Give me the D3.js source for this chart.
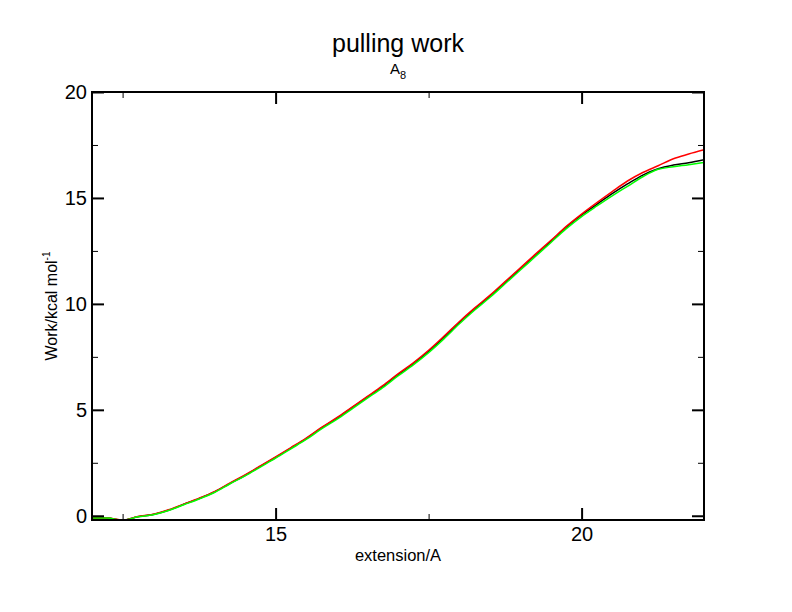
<!DOCTYPE html>
<html>
<head>
<meta charset="utf-8">
<script src="https://cdn.jsdelivr.net/npm/d3@7"></script>
<style>
  body { margin: 0; background: #fff; }
  svg { font-family: "Liberation Sans", Arial, sans-serif; }
</style>
</head>
<body>
<div id="chart"></div>
<script>
// extension (A) and pulling work for the three runs
const extension = [12.00, 12.25, 12.50, 12.75, 13.00, 13.25, 13.50, 13.75, 14.00, 14.25,
    14.50, 14.75, 15.00, 15.25, 15.50, 15.75, 16.00, 16.25, 16.50, 16.75,
    17.00, 17.25, 17.50, 17.75, 18.00, 18.25, 18.50, 18.75, 19.00, 19.25,
    19.50, 19.75, 20.00, 20.25, 20.50, 20.75, 21.00, 21.25, 21.50, 21.75, 22.00];

const workBlack = [-0.10, -0.11, -0.21, -0.05, 0.06, 0.26, 0.54, 0.81, 1.12, 1.52,
    1.90, 2.33, 2.75, 3.19, 3.64, 4.14, 4.60, 5.10, 5.60, 6.10,
    6.66, 7.18, 7.76, 8.42, 9.12, 9.76, 10.36, 11.00, 11.66, 12.32,
    12.96, 13.62, 14.20, 14.70, 15.20, 15.66, 16.08, 16.38, 16.55, 16.66, 16.80];

const workRed = [-0.10, -0.10, -0.20, -0.04, 0.07, 0.28, 0.55, 0.83, 1.14, 1.54,
    1.93, 2.35, 2.78, 3.22, 3.67, 4.17, 4.63, 5.13, 5.63, 6.14,
    6.70, 7.22, 7.81, 8.47, 9.16, 9.80, 10.40, 11.05, 11.70, 12.36,
    13.00, 13.66, 14.24, 14.78, 15.30, 15.80, 16.20, 16.52, 16.85, 17.07, 17.27];

const workGreen = [-0.10, -0.11, -0.21, -0.05, 0.05, 0.25, 0.52, 0.79, 1.10, 1.50,
    1.88, 2.30, 2.72, 3.16, 3.60, 4.10, 4.55, 5.05, 5.55, 6.05,
    6.60, 7.12, 7.70, 8.35, 9.05, 9.70, 10.30, 10.95, 11.60, 12.25,
    12.90, 13.55, 14.12, 14.62, 15.10, 15.55, 16.00, 16.35, 16.47, 16.57, 16.68];

const xMajor = [15, 20];
const xMinor = [12.5, 17.5];
const yMajor = [0, 5, 10, 15, 20];
const yMinor = [2.5, 7.5, 12.5, 17.5];

const width = 792;
const height = 612;
const pLeft = 92, pRight = 704, pTop = 92, pBottom = 520;

const svg = d3.select("#chart")
    .append("svg")
    .attr("width", width)
    .attr("height", height);

const x = d3.scaleLinear().domain([12, 22]).range([pLeft, pRight]);
const y = d3.scaleLinear().domain([-0.2, 20]).range([pBottom, pTop]);

// clip lines to the frame
svg.append("clipPath")
    .attr("id", "plot")
    .append("rect")
    .attr("x", pLeft)
    .attr("y", pTop)
    .attr("width", pRight - pLeft)
    .attr("height", pBottom - pTop);

const line = d3.line()
    .curve(d3.curveMonotoneX)
    .x(d => x(d[0]))
    .y(d => y(d[1]));

const series = [
    { values: workBlack, color: "#000000" },
    { values: workRed, color: "#ff0000" },
    { values: workGreen, color: "#00ff00" }
];

svg.append("g")
    .attr("clip-path", "url(#plot)")
    .selectAll("path")
    .data(series)
    .enter()
    .append("path")
    .attr("fill", "none")
    .attr("stroke", d => d.color)
    .attr("stroke-width", 1.5)
    .attr("d", d => line(extension.map((e, i) => [e, d.values[i]])));

// axes: ticks point inward on all four sides
function styleAxis(g, labels) {
    g.select(".domain").remove();
    g.selectAll("line").attr("stroke", "#000");
    g.selectAll("text")
        .attr("fill", "#000")
        .style("font-size", "20px")
        .style("display", labels ? null : "none");
}

svg.append("g")
    .attr("transform", `translate(0,${pBottom})`)
    .call(d3.axisBottom(x).tickValues(xMajor).tickSize(-12).tickPadding(7).tickFormat(d3.format("d")))
    .call(g => styleAxis(g, true))
    .selectAll("line").attr("stroke-width", 2);

svg.append("g")
    .attr("transform", `translate(0,${pBottom})`)
    .call(d3.axisBottom(x).tickValues(xMinor).tickSize(-6))
    .call(g => styleAxis(g, false));

svg.append("g")
    .attr("transform", `translate(0,${pTop})`)
    .call(d3.axisTop(x).tickValues(xMajor).tickSize(-12))
    .call(g => styleAxis(g, false))
    .selectAll("line").attr("stroke-width", 2);

svg.append("g")
    .attr("transform", `translate(0,${pTop})`)
    .call(d3.axisTop(x).tickValues(xMinor).tickSize(-6))
    .call(g => styleAxis(g, false));

svg.append("g")
    .attr("transform", `translate(${pLeft},0)`)
    .call(d3.axisLeft(y).tickValues(yMajor).tickSize(-12).tickPadding(5).tickFormat(d3.format("d")))
    .call(g => styleAxis(g, true))
    .selectAll("line").attr("stroke-width", 2);

svg.append("g")
    .attr("transform", `translate(${pLeft},0)`)
    .call(d3.axisLeft(y).tickValues(yMinor).tickSize(-6))
    .call(g => styleAxis(g, false));

svg.append("g")
    .attr("transform", `translate(${pRight},0)`)
    .call(d3.axisRight(y).tickValues(yMajor).tickSize(-12))
    .call(g => styleAxis(g, false))
    .selectAll("line").attr("stroke-width", 2);

svg.append("g")
    .attr("transform", `translate(${pRight},0)`)
    .call(d3.axisRight(y).tickValues(yMinor).tickSize(-6))
    .call(g => styleAxis(g, false));

// frame
svg.append("rect")
    .attr("x", pLeft)
    .attr("y", pTop)
    .attr("width", pRight - pLeft)
    .attr("height", pBottom - pTop)
    .attr("fill", "none")
    .attr("stroke", "#000")
    .attr("stroke-width", 2);

// titles
svg.append("text")
    .attr("x", 398)
    .attr("y", 52)
    .attr("text-anchor", "middle")
    .style("font-size", "25px")
    .text("pulling work");

const sub = svg.append("text")
    .attr("x", 398)
    .attr("y", 74)
    .attr("text-anchor", "middle")
    .style("font-size", "15px");
sub.append("tspan").text("A");
sub.append("tspan").attr("dy", 5).style("font-size", "11px").text("8");

svg.append("text")
    .attr("x", 398)
    .attr("y", 561)
    .attr("text-anchor", "middle")
    .style("font-size", "16.5px")
    .text("extension/A");

const ylab = svg.append("text")
    .attr("transform", `translate(57,${(pTop + pBottom) / 2}) rotate(-90)`)
    .attr("text-anchor", "middle")
    .style("font-size", "16px");
ylab.append("tspan").text("Work/kcal mol");
ylab.append("tspan").attr("dy", -7).style("font-size", "10px").text("-1");
</script>
</body>
</html>
